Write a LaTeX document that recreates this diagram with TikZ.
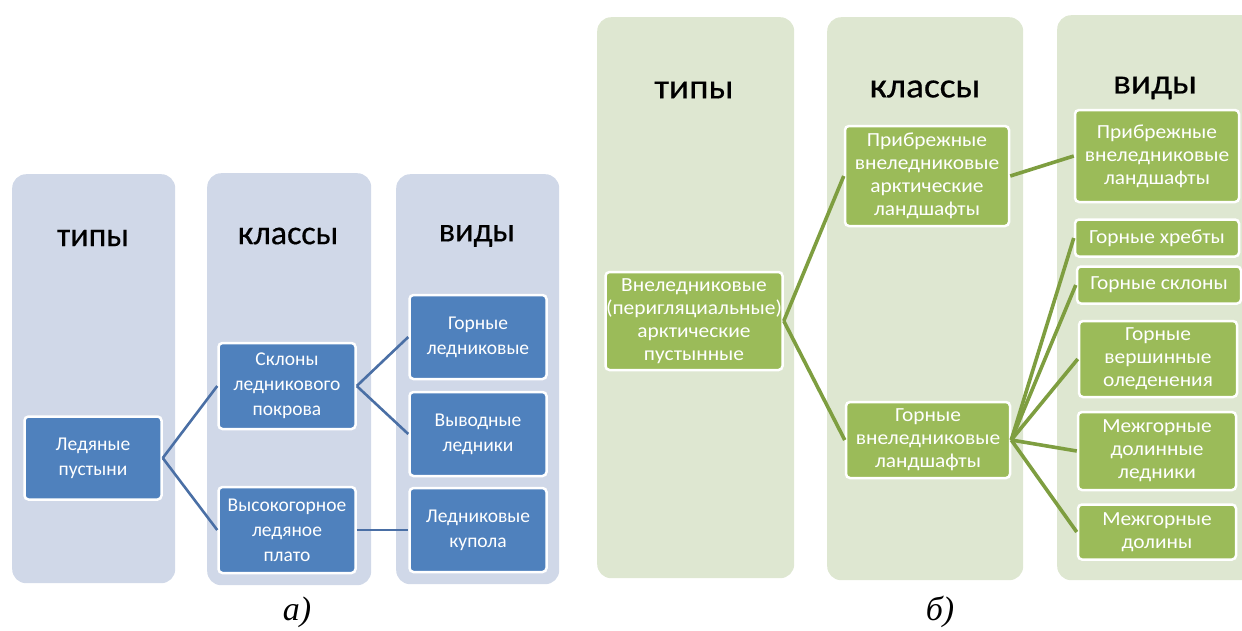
\documentclass[tikz,border=0pt]{standalone}
\usepackage{fontspec}
\setmainfont{Carlito}
\newfontfamily\capfont{Liberation Serif}
\newfontfamily\titlefont[FakeBold=0.4]{Carlito}
\newfontfamily\titlefontb[FakeBold=0.4,FakeStretch=1.07]{Carlito}
\newfontfamily\widefont[FakeStretch=1.07]{Carlito}
\definecolor{blueBg}{HTML}{D0D8E8}
\definecolor{blueBox}{HTML}{4F81BD}
\definecolor{blueLine}{HTML}{4A6FA5}
\definecolor{greenBg}{HTML}{DEE7D1}
\definecolor{greenBox}{HTML}{9BBB59}
\definecolor{greenLine}{HTML}{7E9E40}
\tikzset{
  colbg/.style={rectangle, rounded corners=14pt, draw=none, inner sep=0, anchor=north west},
  colA/.style={colbg, fill=blueBg},
  colB/.style={colbg, fill=greenBg},
  titleA/.style={font=\titlefont\fontsize{34}{40}\selectfont, text=black, inner sep=0},
  titleB/.style={font=\titlefontb\fontsize{35}{40}\selectfont, text=black, inner sep=0},
  boxbase/.style={rectangle, rounded corners=4pt, draw=white, line width=2.5pt, text=white, align=center, inner sep=0},
  boxA/.style={boxbase, fill=blueBox, font=\fontsize{19.5}{25}\selectfont, minimum width=137pt},
  boxB/.style={boxbase, fill=greenBox, font=\widefont\fontsize{20}{23}\selectfont, minimum width=164pt},
  linkA/.style={draw=blueLine, line width=2.6pt},
  linkB/.style={draw=greenLine, line width=3.6pt},
  capt/.style={font=\capfont\itshape\fontsize{34}{38}\selectfont, inner sep=0}
}
\begin{document}
\begin{tikzpicture}[x=1pt,y=-1pt]
\useasboundingbox (0,0) rectangle (1242,630);
% ---------- panel a ----------
\node[colA, minimum width=163pt, minimum height=409pt] (ca1) at (12,174) {};
\node[colA, minimum width=164pt, minimum height=412pt] (ca2) at (207,173) {};
\node[colA, minimum width=163pt, minimum height=410pt] (ca3) at (396,174) {};
\node[titleA] (ta1) at (93,238) {типы};
\node[titleA] (ta2) at (288,236) {классы};
\node[titleA] (ta3) at (477,236) {виды};

\node[boxA, minimum height=83pt] (lp) at (93,458) {Ледяные\\пустыни};
\node[boxA, minimum height=86pt] (sk) at (287,386) {Склоны\\ледникового\\покрова};
\node[boxA, minimum height=86pt] (vp) at (287,530) {Высокогорное\\ледяное\\плато};
\node[boxA, minimum height=84pt] (gl) at (478,337) {Горные\\ледниковые};
\node[boxA, minimum height=84pt] (vl) at (478,434) {Выводные\\ледники};
\node[boxA, minimum height=84pt] (lk) at (478,530) {Ледниковые\\купола};

\draw[linkA] (lp.east) -- (sk.west);
\draw[linkA] (lp.east) -- (vp.west);
\draw[linkA] (sk.east) -- (gl.west);
\draw[linkA] (sk.east) -- (vl.west);
\draw[linkA] (vp.east) -- (lk.west);

\node[capt] (capa) at (297,612) {а)};

% ---------- panel b ----------
\node[colB, minimum width=197pt, minimum height=561pt] (cb1) at (597,17) {};
\node[colB, minimum width=196pt, minimum height=563pt] (cb2) at (827,17) {};
\node[colB, minimum width=200pt, minimum height=565pt] (cb3) at (1057,15) {};
\node[titleB] (tb1) at (694,90) {типы};
\node[titleB] (tb2) at (925,89) {классы};
\node[titleB] (tb3) at (1155,88) {виды};

\node[boxB, minimum width=177pt, minimum height=98pt] (vn) at (694,321) {Внеледниковые\\(перигляциальные)\\арктические\\пустынные};
\node[boxB, minimum height=100pt] (pr) at (927,176) {Прибрежные\\внеледниковые\\арктические\\ландшафты};
\node[boxB, minimum height=76pt] (gv) at (928,440) {Горные\\внеледниковые\\ландшафты};

\node[boxB, minimum height=92pt] (prv) at (1157,156) {Прибрежные\\внеледниковые\\ландшафты};
\node[boxB, minimum height=37pt] (ghr) at (1157,238) {Горные хребты};
\node[boxB, minimum height=37pt] (gsk) at (1159,285) {Горные склоны};
\node[boxB, minimum width=158pt, minimum height=76pt] (gvo) at (1158,359) {Горные\\вершинные\\оледенения};
\node[boxB, minimum width=158pt, minimum height=78pt] (mdl) at (1157,451) {Межгорные\\долинные\\ледники};
\node[boxB, minimum width=158pt, minimum height=55pt] (md) at (1157,532) {Межгорные\\долины};

\draw[linkB] (vn.east) -- (pr.west);
\draw[linkB] (vn.east) -- (gv.west);
\draw[linkB] (pr.east) -- (prv.west);
\draw[linkB] (gv.east) -- (ghr.west);
\draw[linkB] (gv.east) -- (gsk.west);
\draw[linkB] (gv.east) -- (gvo.west);
\draw[linkB] (gv.east) -- (mdl.west);
\draw[linkB] (gv.east) -- (md.west);

\node[capt] (capb) at (940,612) {б)};
\end{tikzpicture}
\end{document}
